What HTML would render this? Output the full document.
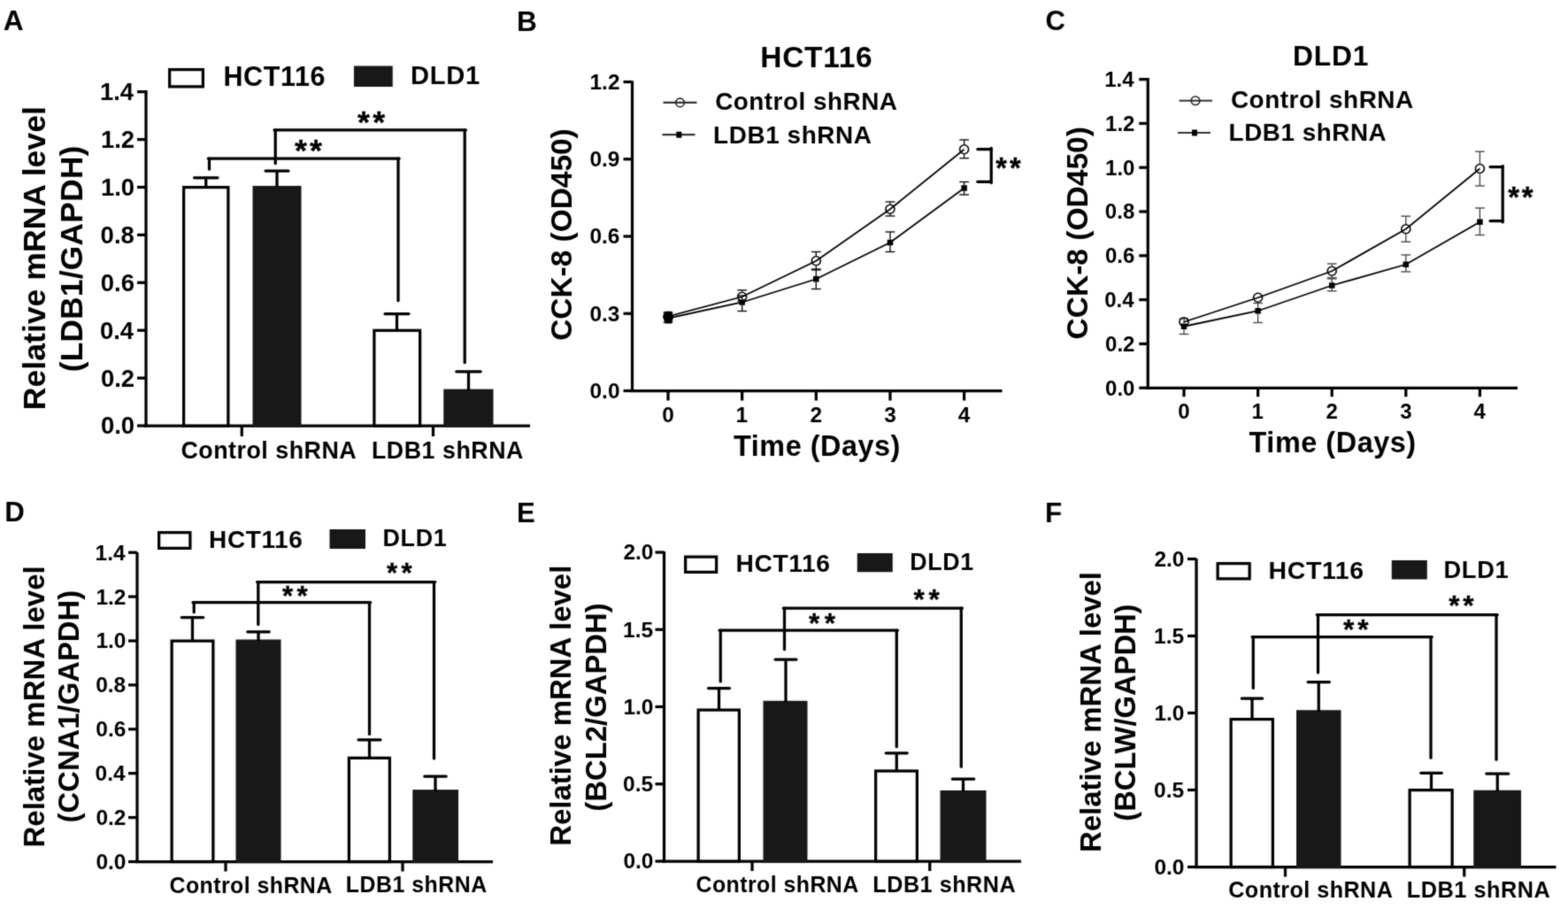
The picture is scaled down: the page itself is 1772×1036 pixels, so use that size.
<!DOCTYPE html>
<html><head><meta charset="utf-8"><title>Figure</title>
<style>
html,body{margin:0;padding:0;background:#fff;}
body{width:1772px;height:1036px;overflow:hidden;}
svg{display:block;}
#fig{width:1772px;height:1036px;}
text{font-family:"Liberation Sans",Arial,sans-serif;font-weight:bold;}
</style></head>
<body>
<div id="fig"><svg width="1772" height="1036" viewBox="0 0 1772 1036">
<defs><filter id="soft" color-interpolation-filters="sRGB" x="0" y="0" width="1772" height="1036" filterUnits="userSpaceOnUse"><feConvolveMatrix order="3" kernelMatrix="1 4 1 4 16 4 1 4 1" divisor="36" edgeMode="duplicate"/></filter></defs>
<g filter="url(#soft)">
<rect width="1772" height="1036" fill="#fff"/>
<text x="3.86" y="33.64" font-size="31.65" fill="#000">A</text>
<text x="583.98" y="34.62" font-size="31.61" fill="#000">B</text>
<text x="1181.47" y="34.42" font-size="31.03" fill="#000">C</text>
<text x="5.2" y="589.37" font-size="31.25" fill="#000">D</text>
<text x="584.06" y="589.7" font-size="31.11" fill="#000">E</text>
<text x="1180.92" y="589.55" font-size="31.39" fill="#000">F</text>
<line x1="165" y1="101.88" x2="165" y2="482.62" stroke="#000" stroke-width="3.25" stroke-linecap="butt"/>
<line x1="163.38" y1="481" x2="599" y2="481" stroke="#000" stroke-width="3.25" stroke-linecap="butt"/>
<line x1="155" y1="481" x2="165" y2="481" stroke="#000" stroke-width="3.25" stroke-linecap="butt"/>
<text x="113.88" y="490.46" font-size="27.5" fill="#000">0.0</text>
<line x1="155" y1="427.1" x2="165" y2="427.1" stroke="#000" stroke-width="3.25" stroke-linecap="butt"/>
<text x="113.88" y="436.56" font-size="27.5" fill="#000">0.2</text>
<line x1="155" y1="373.2" x2="165" y2="373.2" stroke="#000" stroke-width="3.25" stroke-linecap="butt"/>
<text x="112.91" y="382.66" font-size="27.5" fill="#000">0.4</text>
<line x1="155" y1="319.3" x2="165" y2="319.3" stroke="#000" stroke-width="3.25" stroke-linecap="butt"/>
<text x="113.74" y="328.76" font-size="27.5" fill="#000">0.6</text>
<line x1="155" y1="265.4" x2="165" y2="265.4" stroke="#000" stroke-width="3.25" stroke-linecap="butt"/>
<text x="113.6" y="274.86" font-size="27.5" fill="#000">0.8</text>
<line x1="155" y1="211.5" x2="165" y2="211.5" stroke="#000" stroke-width="3.25" stroke-linecap="butt"/>
<text x="113.88" y="220.96" font-size="27.5" fill="#000">1.0</text>
<line x1="155" y1="157.6" x2="165" y2="157.6" stroke="#000" stroke-width="3.25" stroke-linecap="butt"/>
<text x="113.88" y="167.06" font-size="27.5" fill="#000">1.2</text>
<line x1="155" y1="103.7" x2="165" y2="103.7" stroke="#000" stroke-width="3.25" stroke-linecap="butt"/>
<text x="112.91" y="113.16" font-size="27.5" fill="#000">1.4</text>
<line x1="273.25" y1="481" x2="273.25" y2="493" stroke="#000" stroke-width="3.25" stroke-linecap="butt"/>
<line x1="489.5" y1="481" x2="489.5" y2="493" stroke="#000" stroke-width="3.25" stroke-linecap="butt"/>
<rect x="207.62" y="211.62" width="50.25" height="269.38" fill="#fff" stroke="#000" stroke-width="3.25"/>
<rect x="287.12" y="211.62" width="51.75" height="269.38" fill="#181818" stroke="#181818" stroke-width="3.25"/>
<rect x="422.88" y="373.32" width="51.75" height="107.68" fill="#fff" stroke="#000" stroke-width="3.25"/>
<rect x="502.88" y="441.24" width="53" height="39.76" fill="#181818" stroke="#181818" stroke-width="3.25"/>
<line x1="232.75" y1="200.75" x2="232.75" y2="211.5" stroke="#000" stroke-width="3.25" stroke-linecap="butt"/>
<line x1="219.55" y1="200.75" x2="245.95" y2="200.75" stroke="#000" stroke-width="3.25" stroke-linecap="round"/>
<line x1="313" y1="193" x2="313" y2="211.5" stroke="#000" stroke-width="3.25" stroke-linecap="butt"/>
<line x1="300.05" y1="193" x2="325.95" y2="193" stroke="#000" stroke-width="3.25" stroke-linecap="round"/>
<line x1="448.5" y1="354.5" x2="448.5" y2="373.2" stroke="#000" stroke-width="3.25" stroke-linecap="butt"/>
<line x1="435.05" y1="354.5" x2="461.95" y2="354.5" stroke="#000" stroke-width="3.25" stroke-linecap="round"/>
<line x1="529.5" y1="419.75" x2="529.5" y2="441.11" stroke="#000" stroke-width="3.25" stroke-linecap="butt"/>
<line x1="515.8" y1="419.75" x2="543.2" y2="419.75" stroke="#000" stroke-width="3.25" stroke-linecap="round"/>
<line x1="236.5" y1="179" x2="236.5" y2="191.2" stroke="#000" stroke-width="3.25" stroke-linecap="round"/>
<line x1="450" y1="179" x2="450" y2="339.7" stroke="#000" stroke-width="3.25" stroke-linecap="round"/>
<line x1="235.3" y1="179" x2="451.2" y2="179" stroke="#000" stroke-width="3.25" stroke-linecap="round"/>
<line x1="311.2" y1="146.9" x2="311.2" y2="184.7" stroke="#000" stroke-width="3.25" stroke-linecap="round"/>
<line x1="525.2" y1="146.9" x2="525.2" y2="409.7" stroke="#000" stroke-width="3.25" stroke-linecap="round"/>
<line x1="310" y1="146.9" x2="526.4" y2="146.9" stroke="#000" stroke-width="3.25" stroke-linecap="round"/>
<text x="333.12" y="182.3" font-size="35.8" font-weight="normal" fill="#000" stroke="#000" stroke-width="0.35">*</text>
<text x="350.07" y="182.3" font-size="35.8" font-weight="normal" fill="#000" stroke="#000" stroke-width="0.35">*</text>
<text x="403.92" y="150.3" font-size="35.8" font-weight="normal" fill="#000" stroke="#000" stroke-width="0.35">*</text>
<text x="421.22" y="150.3" font-size="35.8" font-weight="normal" fill="#000" stroke="#000" stroke-width="0.35">*</text>
<rect x="191.62" y="78.62" width="37.75" height="19.25" fill="#fff" stroke="#000" stroke-width="3.25"/>
<rect x="401.62" y="76.12" width="40.5" height="20.25" fill="#181818" stroke="#181818" stroke-width="3.25"/>
<text x="252.44" y="97.48" font-size="30.47" letter-spacing="0.67" fill="#000">HCT116</text>
<text x="464.03" y="95.02" font-size="29.12" letter-spacing="0.76" fill="#000">DLD1</text>
<text x="204.43" y="518.48" font-size="26.85" letter-spacing="0.49" fill="#000">Control shRNA</text>
<text x="419.94" y="518.45" font-size="26.75" letter-spacing="0.56" fill="#000">LDB1 shRNA</text>
<text transform="translate(51.06 463.2) rotate(-90)" font-size="35.62" fill="#000">Relative mRNA level</text>
<text transform="translate(93.27 420.28) rotate(-90)" font-size="35.67" fill="#000">(LDB1/GAPDH)</text>
<line x1="155" y1="623.88" x2="155" y2="975.12" stroke="#000" stroke-width="3.25" stroke-linecap="butt"/>
<line x1="153.38" y1="973.5" x2="557" y2="973.5" stroke="#000" stroke-width="3.25" stroke-linecap="butt"/>
<line x1="145" y1="973.5" x2="155" y2="973.5" stroke="#000" stroke-width="3.25" stroke-linecap="butt"/>
<text x="108.42" y="981.93" font-size="24.5" fill="#000">0.0</text>
<line x1="145" y1="923.6" x2="155" y2="923.6" stroke="#000" stroke-width="3.25" stroke-linecap="butt"/>
<text x="108.42" y="932.03" font-size="24.5" fill="#000">0.2</text>
<line x1="145" y1="873.7" x2="155" y2="873.7" stroke="#000" stroke-width="3.25" stroke-linecap="butt"/>
<text x="107.57" y="882.13" font-size="24.5" fill="#000">0.4</text>
<line x1="145" y1="823.8" x2="155" y2="823.8" stroke="#000" stroke-width="3.25" stroke-linecap="butt"/>
<text x="108.3" y="832.23" font-size="24.5" fill="#000">0.6</text>
<line x1="145" y1="773.9" x2="155" y2="773.9" stroke="#000" stroke-width="3.25" stroke-linecap="butt"/>
<text x="108.18" y="782.33" font-size="24.5" fill="#000">0.8</text>
<line x1="145" y1="724" x2="155" y2="724" stroke="#000" stroke-width="3.25" stroke-linecap="butt"/>
<text x="108.42" y="732.43" font-size="24.5" fill="#000">1.0</text>
<line x1="145" y1="674.1" x2="155" y2="674.1" stroke="#000" stroke-width="3.25" stroke-linecap="butt"/>
<text x="108.42" y="682.53" font-size="24.5" fill="#000">1.2</text>
<line x1="145" y1="624.2" x2="155" y2="624.2" stroke="#000" stroke-width="3.25" stroke-linecap="butt"/>
<text x="107.57" y="632.63" font-size="24.5" fill="#000">1.4</text>
<line x1="255" y1="973.5" x2="255" y2="984.5" stroke="#000" stroke-width="3.25" stroke-linecap="butt"/>
<line x1="455" y1="973.5" x2="455" y2="984.5" stroke="#000" stroke-width="3.25" stroke-linecap="butt"/>
<rect x="194.12" y="724.12" width="46.75" height="249.38" fill="#fff" stroke="#000" stroke-width="3.25"/>
<rect x="268.12" y="724.12" width="47.75" height="249.38" fill="#181818" stroke="#181818" stroke-width="3.25"/>
<rect x="394.38" y="856.36" width="46" height="117.14" fill="#fff" stroke="#000" stroke-width="3.25"/>
<rect x="467.88" y="893.78" width="48.5" height="79.72" fill="#181818" stroke="#181818" stroke-width="3.25"/>
<line x1="217.5" y1="697.5" x2="217.5" y2="724" stroke="#000" stroke-width="3.25" stroke-linecap="butt"/>
<line x1="205.3" y1="697.5" x2="229.7" y2="697.5" stroke="#000" stroke-width="3.25" stroke-linecap="round"/>
<line x1="292" y1="713.75" x2="292" y2="724" stroke="#000" stroke-width="3.25" stroke-linecap="butt"/>
<line x1="279.8" y1="713.75" x2="304.2" y2="713.75" stroke="#000" stroke-width="3.25" stroke-linecap="round"/>
<line x1="417.5" y1="835.75" x2="417.5" y2="856.24" stroke="#000" stroke-width="3.25" stroke-linecap="butt"/>
<line x1="405.05" y1="835.75" x2="429.95" y2="835.75" stroke="#000" stroke-width="3.25" stroke-linecap="round"/>
<line x1="492" y1="877" x2="492" y2="893.66" stroke="#000" stroke-width="3.25" stroke-linecap="butt"/>
<line x1="479.8" y1="877" x2="504.2" y2="877" stroke="#000" stroke-width="3.25" stroke-linecap="round"/>
<line x1="219.2" y1="680.5" x2="219.2" y2="691.7" stroke="#000" stroke-width="3.25" stroke-linecap="round"/>
<line x1="417.5" y1="680.5" x2="417.5" y2="829.45" stroke="#000" stroke-width="3.25" stroke-linecap="round"/>
<line x1="218" y1="680.5" x2="418.7" y2="680.5" stroke="#000" stroke-width="3.25" stroke-linecap="round"/>
<line x1="291.8" y1="657.6" x2="291.8" y2="705.5" stroke="#000" stroke-width="3.25" stroke-linecap="round"/>
<line x1="490.5" y1="657.6" x2="490.5" y2="856.95" stroke="#000" stroke-width="3.25" stroke-linecap="round"/>
<line x1="290.6" y1="657.6" x2="491.7" y2="657.6" stroke="#000" stroke-width="3.25" stroke-linecap="round"/>
<text x="319.02" y="684.19" font-size="31.2" font-weight="normal" fill="#000" stroke="#000" stroke-width="0.35">*</text>
<text x="335.42" y="684.19" font-size="31.2" font-weight="normal" fill="#000" stroke="#000" stroke-width="0.35">*</text>
<text x="437.12" y="657.79" font-size="31.2" font-weight="normal" fill="#000" stroke="#000" stroke-width="0.35">*</text>
<text x="453.42" y="657.79" font-size="31.2" font-weight="normal" fill="#000" stroke="#000" stroke-width="0.35">*</text>
<rect x="179.62" y="601.62" width="35.25" height="17.75" fill="#fff" stroke="#000" stroke-width="3.25"/>
<rect x="374.12" y="599.62" width="37.25" height="18.75" fill="#181818" stroke="#181818" stroke-width="3.25"/>
<text x="236.11" y="618.74" font-size="27.96" letter-spacing="0.62" fill="#000">HCT116</text>
<text x="432.43" y="617" font-size="26.9" letter-spacing="0.7" fill="#000">DLD1</text>
<text x="191.51" y="1008.51" font-size="24.86" letter-spacing="0.46" fill="#000">Control shRNA</text>
<text x="390.82" y="1008.38" font-size="24.85" letter-spacing="0.52" fill="#000">LDB1 shRNA</text>
<text transform="translate(49.63 957.53) rotate(-90)" font-size="33.04" fill="#000">Relative mRNA level</text>
<text transform="translate(88.75 929.44) rotate(-90)" font-size="32.84" fill="#000">(CCNA1/GAPDH)</text>
<line x1="750.5" y1="622.88" x2="750.5" y2="974.62" stroke="#000" stroke-width="3.25" stroke-linecap="butt"/>
<line x1="748.88" y1="973" x2="1154" y2="973" stroke="#000" stroke-width="3.25" stroke-linecap="butt"/>
<line x1="740.5" y1="973" x2="750.5" y2="973" stroke="#000" stroke-width="3.25" stroke-linecap="butt"/>
<text x="704.42" y="981.43" font-size="24.5" fill="#000">0.0</text>
<line x1="740.5" y1="885.75" x2="750.5" y2="885.75" stroke="#000" stroke-width="3.25" stroke-linecap="butt"/>
<text x="704.12" y="894.18" font-size="24.5" fill="#000">0.5</text>
<line x1="740.5" y1="798.5" x2="750.5" y2="798.5" stroke="#000" stroke-width="3.25" stroke-linecap="butt"/>
<text x="704.42" y="806.93" font-size="24.5" fill="#000">1.0</text>
<line x1="740.5" y1="711.25" x2="750.5" y2="711.25" stroke="#000" stroke-width="3.25" stroke-linecap="butt"/>
<text x="704.12" y="719.68" font-size="24.5" fill="#000">1.5</text>
<line x1="740.5" y1="624" x2="750.5" y2="624" stroke="#000" stroke-width="3.25" stroke-linecap="butt"/>
<text x="704.42" y="632.43" font-size="24.5" fill="#000">2.0</text>
<line x1="850" y1="973" x2="850" y2="984" stroke="#000" stroke-width="3.25" stroke-linecap="butt"/>
<line x1="1050.75" y1="973" x2="1050.75" y2="984" stroke="#000" stroke-width="3.25" stroke-linecap="butt"/>
<rect x="789.12" y="802.12" width="46.25" height="170.88" fill="#fff" stroke="#000" stroke-width="3.25"/>
<rect x="864.12" y="793.39" width="46.75" height="179.61" fill="#181818" stroke="#181818" stroke-width="3.25"/>
<rect x="989.62" y="871.04" width="46.75" height="101.96" fill="#fff" stroke="#000" stroke-width="3.25"/>
<rect x="1064.12" y="894.6" width="48.75" height="78.4" fill="#181818" stroke="#181818" stroke-width="3.25"/>
<line x1="812.5" y1="777.5" x2="812.5" y2="801.99" stroke="#000" stroke-width="3.25" stroke-linecap="butt"/>
<line x1="800.55" y1="777.5" x2="824.45" y2="777.5" stroke="#000" stroke-width="3.25" stroke-linecap="round"/>
<line x1="888" y1="745" x2="888" y2="793.26" stroke="#000" stroke-width="3.25" stroke-linecap="butt"/>
<line x1="876.05" y1="745" x2="899.95" y2="745" stroke="#000" stroke-width="3.25" stroke-linecap="round"/>
<line x1="1013.25" y1="850.75" x2="1013.25" y2="870.92" stroke="#000" stroke-width="3.25" stroke-linecap="butt"/>
<line x1="1001.3" y1="850.75" x2="1025.2" y2="850.75" stroke="#000" stroke-width="3.25" stroke-linecap="round"/>
<line x1="1088.5" y1="880" x2="1088.5" y2="894.48" stroke="#000" stroke-width="3.25" stroke-linecap="butt"/>
<line x1="1076.3" y1="880" x2="1100.7" y2="880" stroke="#000" stroke-width="3.25" stroke-linecap="round"/>
<line x1="814.25" y1="712" x2="814.25" y2="769.95" stroke="#000" stroke-width="3.25" stroke-linecap="round"/>
<line x1="1013.25" y1="712" x2="1013.25" y2="843.7" stroke="#000" stroke-width="3.25" stroke-linecap="round"/>
<line x1="813.05" y1="712" x2="1014.45" y2="712" stroke="#000" stroke-width="3.25" stroke-linecap="round"/>
<line x1="886.5" y1="687" x2="886.5" y2="733.7" stroke="#000" stroke-width="3.25" stroke-linecap="round"/>
<line x1="1086.25" y1="687" x2="1086.25" y2="866.2" stroke="#000" stroke-width="3.25" stroke-linecap="round"/>
<line x1="885.3" y1="687" x2="1087.45" y2="687" stroke="#000" stroke-width="3.25" stroke-linecap="round"/>
<text x="913.94" y="714.9" font-size="31.6" font-weight="normal" fill="#000" stroke="#000" stroke-width="0.35">*</text>
<text x="931.74" y="714.9" font-size="31.6" font-weight="normal" fill="#000" stroke="#000" stroke-width="0.35">*</text>
<text x="1032.44" y="687.7" font-size="31.6" font-weight="normal" fill="#000" stroke="#000" stroke-width="0.35">*</text>
<text x="1049.49" y="687.7" font-size="31.6" font-weight="normal" fill="#000" stroke="#000" stroke-width="0.35">*</text>
<rect x="774.62" y="629.12" width="35" height="17.25" fill="#fff" stroke="#000" stroke-width="3.25"/>
<rect x="970.38" y="626.62" width="36.75" height="18" fill="#181818" stroke="#181818" stroke-width="3.25"/>
<text x="831.6" y="646.31" font-size="28.16" letter-spacing="0.62" fill="#000">HCT116</text>
<text x="1028.19" y="643.97" font-size="26.81" letter-spacing="0.69" fill="#000">DLD1</text>
<text x="786.51" y="1007.51" font-size="24.86" letter-spacing="0.46" fill="#000">Control shRNA</text>
<text x="986.3" y="1007.62" font-size="25.17" letter-spacing="0.53" fill="#000">LDB1 shRNA</text>
<text transform="translate(645.01 955.72) rotate(-90)" font-size="32.91" fill="#000">Relative mRNA level</text>
<text transform="translate(684.7 916.64) rotate(-90)" font-size="32.84" fill="#000">(BCL2/GAPDH)</text>
<line x1="1352" y1="630.88" x2="1352" y2="981.12" stroke="#000" stroke-width="3.25" stroke-linecap="butt"/>
<line x1="1350.38" y1="979.5" x2="1758.5" y2="979.5" stroke="#000" stroke-width="3.25" stroke-linecap="butt"/>
<line x1="1342" y1="979.5" x2="1352" y2="979.5" stroke="#000" stroke-width="3.25" stroke-linecap="butt"/>
<text x="1304.42" y="987.93" font-size="24.5" fill="#000">0.0</text>
<line x1="1342" y1="892.5" x2="1352" y2="892.5" stroke="#000" stroke-width="3.25" stroke-linecap="butt"/>
<text x="1304.12" y="900.93" font-size="24.5" fill="#000">0.5</text>
<line x1="1342" y1="805.5" x2="1352" y2="805.5" stroke="#000" stroke-width="3.25" stroke-linecap="butt"/>
<text x="1304.42" y="813.93" font-size="24.5" fill="#000">1.0</text>
<line x1="1342" y1="718.5" x2="1352" y2="718.5" stroke="#000" stroke-width="3.25" stroke-linecap="butt"/>
<text x="1304.12" y="726.93" font-size="24.5" fill="#000">1.5</text>
<line x1="1342" y1="631.5" x2="1352" y2="631.5" stroke="#000" stroke-width="3.25" stroke-linecap="butt"/>
<text x="1304.42" y="639.93" font-size="24.5" fill="#000">2.0</text>
<line x1="1452.5" y1="979.5" x2="1452.5" y2="990.5" stroke="#000" stroke-width="3.25" stroke-linecap="butt"/>
<line x1="1654.75" y1="979.5" x2="1654.75" y2="990.5" stroke="#000" stroke-width="3.25" stroke-linecap="butt"/>
<rect x="1391.12" y="812.59" width="47.25" height="166.91" fill="#fff" stroke="#000" stroke-width="3.25"/>
<rect x="1466.62" y="803.88" width="47.25" height="175.62" fill="#181818" stroke="#181818" stroke-width="3.25"/>
<rect x="1593.12" y="892.62" width="48" height="86.88" fill="#fff" stroke="#000" stroke-width="3.25"/>
<rect x="1666.88" y="894.37" width="50.5" height="85.13" fill="#181818" stroke="#181818" stroke-width="3.25"/>
<line x1="1415" y1="789" x2="1415" y2="812.46" stroke="#000" stroke-width="3.25" stroke-linecap="butt"/>
<line x1="1403.3" y1="789" x2="1426.7" y2="789" stroke="#000" stroke-width="3.25" stroke-linecap="round"/>
<line x1="1490.25" y1="770.5" x2="1490.25" y2="803.76" stroke="#000" stroke-width="3.25" stroke-linecap="butt"/>
<line x1="1478.15" y1="770.5" x2="1502.35" y2="770.5" stroke="#000" stroke-width="3.25" stroke-linecap="round"/>
<line x1="1617.5" y1="873.25" x2="1617.5" y2="892.5" stroke="#000" stroke-width="3.25" stroke-linecap="butt"/>
<line x1="1605.8" y1="873.25" x2="1629.2" y2="873.25" stroke="#000" stroke-width="3.25" stroke-linecap="round"/>
<line x1="1692.25" y1="874" x2="1692.25" y2="894.24" stroke="#000" stroke-width="3.25" stroke-linecap="butt"/>
<line x1="1679.8" y1="874" x2="1704.7" y2="874" stroke="#000" stroke-width="3.25" stroke-linecap="round"/>
<line x1="1416.25" y1="719.5" x2="1416.25" y2="777.45" stroke="#000" stroke-width="3.25" stroke-linecap="round"/>
<line x1="1617" y1="719.5" x2="1617" y2="856.2" stroke="#000" stroke-width="3.25" stroke-linecap="round"/>
<line x1="1415.05" y1="719.5" x2="1618.2" y2="719.5" stroke="#000" stroke-width="3.25" stroke-linecap="round"/>
<line x1="1489.5" y1="694.5" x2="1489.5" y2="759.95" stroke="#000" stroke-width="3.25" stroke-linecap="round"/>
<line x1="1691" y1="694.5" x2="1691" y2="858.2" stroke="#000" stroke-width="3.25" stroke-linecap="round"/>
<line x1="1488.3" y1="694.5" x2="1692.2" y2="694.5" stroke="#000" stroke-width="3.25" stroke-linecap="round"/>
<text x="1518.04" y="722.3" font-size="31.6" font-weight="normal" fill="#000" stroke="#000" stroke-width="0.35">*</text>
<text x="1534.24" y="722.3" font-size="31.6" font-weight="normal" fill="#000" stroke="#000" stroke-width="0.35">*</text>
<text x="1637.14" y="695.3" font-size="31.6" font-weight="normal" fill="#000" stroke="#000" stroke-width="0.35">*</text>
<text x="1653.34" y="695.3" font-size="31.6" font-weight="normal" fill="#000" stroke="#000" stroke-width="0.35">*</text>
<rect x="1376.12" y="636.62" width="36" height="17.25" fill="#fff" stroke="#000" stroke-width="3.25"/>
<rect x="1574.38" y="634.62" width="36.75" height="18.25" fill="#181818" stroke="#181818" stroke-width="3.25"/>
<text x="1433.58" y="653.91" font-size="28.43" letter-spacing="0.63" fill="#000">HCT116</text>
<text x="1631.41" y="652.51" font-size="27.29" letter-spacing="0.71" fill="#000">DLD1</text>
<text x="1388.24" y="1014.24" font-size="25.14" letter-spacing="0.46" fill="#000">Control shRNA</text>
<text x="1589.8" y="1014.28" font-size="25.25" letter-spacing="0.53" fill="#000">LDB1 shRNA</text>
<text transform="translate(1243.53 963.02) rotate(-90)" font-size="32.91" fill="#000">Relative mRNA level</text>
<text transform="translate(1283.15 927.64) rotate(-90)" font-size="32.7" fill="#000">(BCLW/GAPDH)</text>
<line x1="714.5" y1="91.5" x2="714.5" y2="443.12" stroke="#000" stroke-width="3.25" stroke-linecap="butt"/>
<line x1="712.88" y1="441.5" x2="1132.5" y2="441.5" stroke="#000" stroke-width="3.25" stroke-linecap="butt"/>
<line x1="704.5" y1="441.5" x2="714.5" y2="441.5" stroke="#000" stroke-width="3.25" stroke-linecap="butt"/>
<text x="666.56" y="449.89" font-size="24.4" fill="#000">0.0</text>
<line x1="704.5" y1="354.26" x2="714.5" y2="354.26" stroke="#000" stroke-width="3.25" stroke-linecap="butt"/>
<text x="666.44" y="362.65" font-size="24.4" fill="#000">0.3</text>
<line x1="704.5" y1="267.02" x2="714.5" y2="267.02" stroke="#000" stroke-width="3.25" stroke-linecap="butt"/>
<text x="666.44" y="275.41" font-size="24.4" fill="#000">0.6</text>
<line x1="704.5" y1="179.78" x2="714.5" y2="179.78" stroke="#000" stroke-width="3.25" stroke-linecap="butt"/>
<text x="666.44" y="188.17" font-size="24.4" fill="#000">0.9</text>
<line x1="704.5" y1="92.54" x2="714.5" y2="92.54" stroke="#000" stroke-width="3.25" stroke-linecap="butt"/>
<text x="666.56" y="100.93" font-size="24.4" fill="#000">1.2</text>
<line x1="755" y1="441.5" x2="755" y2="452.5" stroke="#000" stroke-width="3.25" stroke-linecap="butt"/>
<text x="748.23" y="476.59" font-size="24.4" fill="#000">0</text>
<line x1="838.65" y1="441.5" x2="838.65" y2="452.5" stroke="#000" stroke-width="3.25" stroke-linecap="butt"/>
<text x="831.45" y="476.59" font-size="24.4" fill="#000">1</text>
<line x1="922.3" y1="441.5" x2="922.3" y2="452.5" stroke="#000" stroke-width="3.25" stroke-linecap="butt"/>
<text x="915.59" y="476.59" font-size="24.4" fill="#000">2</text>
<line x1="1005.95" y1="441.5" x2="1005.95" y2="452.5" stroke="#000" stroke-width="3.25" stroke-linecap="butt"/>
<text x="999.33" y="476.59" font-size="24.4" fill="#000">3</text>
<line x1="1089.6" y1="441.5" x2="1089.6" y2="452.5" stroke="#000" stroke-width="3.25" stroke-linecap="butt"/>
<text x="1082.71" y="476.59" font-size="24.4" fill="#000">4</text>
<line x1="755" y1="363.3" x2="755" y2="364" stroke="#111" stroke-width="1.4" stroke-linecap="butt"/>
<line x1="749.6" y1="353" x2="760.4" y2="353" stroke="#111" stroke-width="1.4" stroke-linecap="butt"/>
<line x1="749.6" y1="364" x2="760.4" y2="364" stroke="#111" stroke-width="1.4" stroke-linecap="butt"/>
<line x1="838.65" y1="327.75" x2="838.65" y2="329.45" stroke="#111" stroke-width="1.4" stroke-linecap="butt"/>
<line x1="833.25" y1="327.75" x2="844.05" y2="327.75" stroke="#111" stroke-width="1.4" stroke-linecap="butt"/>
<line x1="833.25" y1="340" x2="844.05" y2="340" stroke="#111" stroke-width="1.4" stroke-linecap="butt"/>
<line x1="922.3" y1="284.5" x2="922.3" y2="288.95" stroke="#111" stroke-width="1.4" stroke-linecap="butt"/>
<line x1="922.3" y1="300.55" x2="922.3" y2="305" stroke="#111" stroke-width="1.4" stroke-linecap="butt"/>
<line x1="916.9" y1="284.5" x2="927.7" y2="284.5" stroke="#111" stroke-width="1.4" stroke-linecap="butt"/>
<line x1="916.9" y1="305" x2="927.7" y2="305" stroke="#111" stroke-width="1.4" stroke-linecap="butt"/>
<line x1="1005.95" y1="228" x2="1005.95" y2="230.45" stroke="#111" stroke-width="1.4" stroke-linecap="butt"/>
<line x1="1005.95" y1="242.05" x2="1005.95" y2="244" stroke="#111" stroke-width="1.4" stroke-linecap="butt"/>
<line x1="1000.55" y1="228" x2="1011.35" y2="228" stroke="#111" stroke-width="1.4" stroke-linecap="butt"/>
<line x1="1000.55" y1="244" x2="1011.35" y2="244" stroke="#111" stroke-width="1.4" stroke-linecap="butt"/>
<line x1="1089.6" y1="158" x2="1089.6" y2="162.95" stroke="#111" stroke-width="1.4" stroke-linecap="butt"/>
<line x1="1089.6" y1="174.55" x2="1089.6" y2="178.75" stroke="#111" stroke-width="1.4" stroke-linecap="butt"/>
<line x1="1084.2" y1="158" x2="1095" y2="158" stroke="#111" stroke-width="1.4" stroke-linecap="butt"/>
<line x1="1084.2" y1="178.75" x2="1095" y2="178.75" stroke="#111" stroke-width="1.4" stroke-linecap="butt"/>
<line x1="838.65" y1="334" x2="838.65" y2="338.2" stroke="#111" stroke-width="1.4" stroke-linecap="butt"/>
<line x1="838.65" y1="344.8" x2="838.65" y2="351.5" stroke="#111" stroke-width="1.4" stroke-linecap="butt"/>
<line x1="833.25" y1="334" x2="844.05" y2="334" stroke="#111" stroke-width="1.4" stroke-linecap="butt"/>
<line x1="833.25" y1="351.5" x2="844.05" y2="351.5" stroke="#111" stroke-width="1.4" stroke-linecap="butt"/>
<line x1="922.3" y1="304" x2="922.3" y2="311.95" stroke="#111" stroke-width="1.4" stroke-linecap="butt"/>
<line x1="922.3" y1="318.55" x2="922.3" y2="326.5" stroke="#111" stroke-width="1.4" stroke-linecap="butt"/>
<line x1="916.9" y1="304" x2="927.7" y2="304" stroke="#111" stroke-width="1.4" stroke-linecap="butt"/>
<line x1="916.9" y1="326.5" x2="927.7" y2="326.5" stroke="#111" stroke-width="1.4" stroke-linecap="butt"/>
<line x1="1005.95" y1="262" x2="1005.95" y2="270.7" stroke="#111" stroke-width="1.4" stroke-linecap="butt"/>
<line x1="1005.95" y1="277.3" x2="1005.95" y2="284.5" stroke="#111" stroke-width="1.4" stroke-linecap="butt"/>
<line x1="1000.55" y1="262" x2="1011.35" y2="262" stroke="#111" stroke-width="1.4" stroke-linecap="butt"/>
<line x1="1000.55" y1="284.5" x2="1011.35" y2="284.5" stroke="#111" stroke-width="1.4" stroke-linecap="butt"/>
<line x1="1089.6" y1="205.5" x2="1089.6" y2="209.2" stroke="#111" stroke-width="1.4" stroke-linecap="butt"/>
<line x1="1089.6" y1="215.8" x2="1089.6" y2="220" stroke="#111" stroke-width="1.4" stroke-linecap="butt"/>
<line x1="1084.2" y1="205.5" x2="1095" y2="205.5" stroke="#111" stroke-width="1.4" stroke-linecap="butt"/>
<line x1="1084.2" y1="220" x2="1095" y2="220" stroke="#111" stroke-width="1.4" stroke-linecap="butt"/>
<polyline points="755,357.5 838.65,335.25 922.3,294.75 1005.95,236.25 1089.6,168.75" fill="none" stroke="#000" stroke-width="1.8"/>
<circle cx="755" cy="357.5" r="5" fill="none" stroke="#000" stroke-width="1.6"/>
<circle cx="838.65" cy="335.25" r="5" fill="none" stroke="#000" stroke-width="1.6"/>
<circle cx="922.3" cy="294.75" r="5" fill="none" stroke="#000" stroke-width="1.6"/>
<circle cx="1005.95" cy="236.25" r="5" fill="none" stroke="#000" stroke-width="1.6"/>
<circle cx="1089.6" cy="168.75" r="5" fill="none" stroke="#000" stroke-width="1.6"/>
<polyline points="755,359.5 838.65,341.5 922.3,315.25 1005.95,274 1089.6,212.5" fill="none" stroke="#000" stroke-width="1.8"/>
<rect x="751.75" y="356.25" width="6.5" height="6.5" fill="#000"/>
<rect x="835.4" y="338.25" width="6.5" height="6.5" fill="#000"/>
<rect x="919.05" y="312" width="6.5" height="6.5" fill="#000"/>
<rect x="1002.7" y="270.75" width="6.5" height="6.5" fill="#000"/>
<rect x="1086.35" y="209.25" width="6.5" height="6.5" fill="#000"/>
<polygon points="751.5,351.8 759,351.8 761,358.6 759,365.4 751.5,365.4 749.5,358.6" fill="#000"/>
<line x1="1120.2" y1="167.3" x2="1120.2" y2="206.5" stroke="#000" stroke-width="3.25" stroke-linecap="round"/>
<line x1="1104.8" y1="168.5" x2="1120.2" y2="168.5" stroke="#000" stroke-width="3.25" stroke-linecap="round"/>
<line x1="1104.8" y1="205.3" x2="1120.2" y2="205.3" stroke="#000" stroke-width="3.25" stroke-linecap="round"/>
<text x="1125.36" y="200.91" font-size="32.5" font-weight="normal" fill="#000" stroke="#000" stroke-width="0.35">*</text>
<text x="1140.91" y="200.91" font-size="32.5" font-weight="normal" fill="#000" stroke="#000" stroke-width="0.35">*</text>
<line x1="749.5" y1="115.9" x2="787.5" y2="115.9" stroke="#333" stroke-width="2.2" stroke-linecap="butt"/>
<circle cx="768.5" cy="115.9" r="4.8" fill="none" stroke="#222" stroke-width="1.6"/>
<line x1="748.5" y1="152.2" x2="785.5" y2="152.2" stroke="#333" stroke-width="2.2" stroke-linecap="butt"/>
<rect x="764.3" y="148.7" width="6" height="7" fill="#000"/>
<text x="808.14" y="124.48" font-size="27.87" letter-spacing="0.51" fill="#000">Control shRNA</text>
<text x="806.12" y="161.6" font-size="27.86" letter-spacing="0.59" fill="#000">LDB1 shRNA</text>
<text x="859.24" y="75.76" font-size="33.47" letter-spacing="0.74" fill="#000">HCT116</text>
<text x="829.1" y="514.6" font-size="32.33" letter-spacing="0.56" fill="#000">Time (Days)</text>
<text transform="translate(646.25 384.84) rotate(-90)" font-size="33.43" fill="#000">CCK-8 (OD450)</text>
<line x1="1297.25" y1="88" x2="1297.25" y2="439.88" stroke="#000" stroke-width="3.25" stroke-linecap="butt"/>
<line x1="1295.62" y1="438.25" x2="1715" y2="438.25" stroke="#000" stroke-width="3.25" stroke-linecap="butt"/>
<line x1="1287.25" y1="438.25" x2="1297.25" y2="438.25" stroke="#000" stroke-width="3.25" stroke-linecap="butt"/>
<text x="1249.1" y="446.51" font-size="24" fill="#000">0.0</text>
<line x1="1287.25" y1="388.45" x2="1297.25" y2="388.45" stroke="#000" stroke-width="3.25" stroke-linecap="butt"/>
<text x="1249.1" y="396.71" font-size="24" fill="#000">0.2</text>
<line x1="1287.25" y1="338.65" x2="1297.25" y2="338.65" stroke="#000" stroke-width="3.25" stroke-linecap="butt"/>
<text x="1248.26" y="346.91" font-size="24" fill="#000">0.4</text>
<line x1="1287.25" y1="288.85" x2="1297.25" y2="288.85" stroke="#000" stroke-width="3.25" stroke-linecap="butt"/>
<text x="1248.98" y="297.11" font-size="24" fill="#000">0.6</text>
<line x1="1287.25" y1="239.05" x2="1297.25" y2="239.05" stroke="#000" stroke-width="3.25" stroke-linecap="butt"/>
<text x="1248.86" y="247.31" font-size="24" fill="#000">0.8</text>
<line x1="1287.25" y1="189.25" x2="1297.25" y2="189.25" stroke="#000" stroke-width="3.25" stroke-linecap="butt"/>
<text x="1249.1" y="197.51" font-size="24" fill="#000">1.0</text>
<line x1="1287.25" y1="139.45" x2="1297.25" y2="139.45" stroke="#000" stroke-width="3.25" stroke-linecap="butt"/>
<text x="1249.1" y="147.71" font-size="24" fill="#000">1.2</text>
<line x1="1287.25" y1="89.65" x2="1297.25" y2="89.65" stroke="#000" stroke-width="3.25" stroke-linecap="butt"/>
<text x="1248.26" y="97.91" font-size="24" fill="#000">1.4</text>
<line x1="1338" y1="438.25" x2="1338" y2="448.25" stroke="#000" stroke-width="3.25" stroke-linecap="butt"/>
<text x="1331.34" y="473.06" font-size="24" fill="#000">0</text>
<line x1="1421.6" y1="438.25" x2="1421.6" y2="448.25" stroke="#000" stroke-width="3.25" stroke-linecap="butt"/>
<text x="1414.52" y="473.06" font-size="24" fill="#000">1</text>
<line x1="1505.2" y1="438.25" x2="1505.2" y2="448.25" stroke="#000" stroke-width="3.25" stroke-linecap="butt"/>
<text x="1498.6" y="473.06" font-size="24" fill="#000">2</text>
<line x1="1588.8" y1="438.25" x2="1588.8" y2="448.25" stroke="#000" stroke-width="3.25" stroke-linecap="butt"/>
<text x="1582.29" y="473.06" font-size="24" fill="#000">3</text>
<line x1="1672.4" y1="438.25" x2="1672.4" y2="448.25" stroke="#000" stroke-width="3.25" stroke-linecap="butt"/>
<text x="1665.62" y="473.06" font-size="24" fill="#000">4</text>
<line x1="1338" y1="360" x2="1338" y2="365.45" stroke="#4a4a4a" stroke-width="1.4" stroke-linecap="butt"/>
<line x1="1338" y1="372.05" x2="1338" y2="377.5" stroke="#4a4a4a" stroke-width="1.4" stroke-linecap="butt"/>
<line x1="1332.6" y1="360" x2="1343.4" y2="360" stroke="#4a4a4a" stroke-width="1.4" stroke-linecap="butt"/>
<line x1="1332.6" y1="377.5" x2="1343.4" y2="377.5" stroke="#4a4a4a" stroke-width="1.4" stroke-linecap="butt"/>
<line x1="1505.2" y1="298" x2="1505.2" y2="300.45" stroke="#4a4a4a" stroke-width="1.4" stroke-linecap="butt"/>
<line x1="1505.2" y1="312.05" x2="1505.2" y2="315" stroke="#4a4a4a" stroke-width="1.4" stroke-linecap="butt"/>
<line x1="1499.8" y1="298" x2="1510.6" y2="298" stroke="#4a4a4a" stroke-width="1.4" stroke-linecap="butt"/>
<line x1="1499.8" y1="315" x2="1510.6" y2="315" stroke="#4a4a4a" stroke-width="1.4" stroke-linecap="butt"/>
<line x1="1588.8" y1="244.25" x2="1588.8" y2="252.95" stroke="#4a4a4a" stroke-width="1.4" stroke-linecap="butt"/>
<line x1="1588.8" y1="264.55" x2="1588.8" y2="273.25" stroke="#4a4a4a" stroke-width="1.4" stroke-linecap="butt"/>
<line x1="1583.4" y1="244.25" x2="1594.2" y2="244.25" stroke="#4a4a4a" stroke-width="1.4" stroke-linecap="butt"/>
<line x1="1583.4" y1="273.25" x2="1594.2" y2="273.25" stroke="#4a4a4a" stroke-width="1.4" stroke-linecap="butt"/>
<line x1="1672.4" y1="171.25" x2="1672.4" y2="184.7" stroke="#4a4a4a" stroke-width="1.4" stroke-linecap="butt"/>
<line x1="1672.4" y1="196.3" x2="1672.4" y2="210" stroke="#4a4a4a" stroke-width="1.4" stroke-linecap="butt"/>
<line x1="1667" y1="171.25" x2="1677.8" y2="171.25" stroke="#4a4a4a" stroke-width="1.4" stroke-linecap="butt"/>
<line x1="1667" y1="210" x2="1677.8" y2="210" stroke="#4a4a4a" stroke-width="1.4" stroke-linecap="butt"/>
<line x1="1421.6" y1="342.5" x2="1421.6" y2="347.95" stroke="#4a4a4a" stroke-width="1.4" stroke-linecap="butt"/>
<line x1="1421.6" y1="354.55" x2="1421.6" y2="364.5" stroke="#4a4a4a" stroke-width="1.4" stroke-linecap="butt"/>
<line x1="1416.2" y1="342.5" x2="1427" y2="342.5" stroke="#4a4a4a" stroke-width="1.4" stroke-linecap="butt"/>
<line x1="1416.2" y1="364.5" x2="1427" y2="364.5" stroke="#4a4a4a" stroke-width="1.4" stroke-linecap="butt"/>
<line x1="1505.2" y1="313.75" x2="1505.2" y2="319.2" stroke="#4a4a4a" stroke-width="1.4" stroke-linecap="butt"/>
<line x1="1505.2" y1="325.8" x2="1505.2" y2="328.75" stroke="#4a4a4a" stroke-width="1.4" stroke-linecap="butt"/>
<line x1="1499.8" y1="313.75" x2="1510.6" y2="313.75" stroke="#4a4a4a" stroke-width="1.4" stroke-linecap="butt"/>
<line x1="1499.8" y1="328.75" x2="1510.6" y2="328.75" stroke="#4a4a4a" stroke-width="1.4" stroke-linecap="butt"/>
<line x1="1588.8" y1="288" x2="1588.8" y2="295.45" stroke="#4a4a4a" stroke-width="1.4" stroke-linecap="butt"/>
<line x1="1588.8" y1="302.05" x2="1588.8" y2="307" stroke="#4a4a4a" stroke-width="1.4" stroke-linecap="butt"/>
<line x1="1583.4" y1="288" x2="1594.2" y2="288" stroke="#4a4a4a" stroke-width="1.4" stroke-linecap="butt"/>
<line x1="1583.4" y1="307" x2="1594.2" y2="307" stroke="#4a4a4a" stroke-width="1.4" stroke-linecap="butt"/>
<line x1="1672.4" y1="235" x2="1672.4" y2="247.45" stroke="#4a4a4a" stroke-width="1.4" stroke-linecap="butt"/>
<line x1="1672.4" y1="254.05" x2="1672.4" y2="265.5" stroke="#4a4a4a" stroke-width="1.4" stroke-linecap="butt"/>
<line x1="1667" y1="235" x2="1677.8" y2="235" stroke="#4a4a4a" stroke-width="1.4" stroke-linecap="butt"/>
<line x1="1667" y1="265.5" x2="1677.8" y2="265.5" stroke="#4a4a4a" stroke-width="1.4" stroke-linecap="butt"/>
<polyline points="1338,363.75 1421.6,336.25 1505.2,306.25 1588.8,258.75 1672.4,190.5" fill="none" stroke="#000" stroke-width="1.8"/>
<circle cx="1338" cy="363.75" r="5" fill="none" stroke="#000" stroke-width="1.6"/>
<circle cx="1421.6" cy="336.25" r="5" fill="none" stroke="#000" stroke-width="1.6"/>
<circle cx="1505.2" cy="306.25" r="5" fill="none" stroke="#000" stroke-width="1.6"/>
<circle cx="1588.8" cy="258.75" r="5" fill="none" stroke="#000" stroke-width="1.6"/>
<circle cx="1672.4" cy="190.5" r="5" fill="none" stroke="#000" stroke-width="1.6"/>
<polyline points="1338,368.75 1421.6,351.25 1505.2,322.5 1588.8,298.75 1672.4,250.75" fill="none" stroke="#000" stroke-width="1.8"/>
<rect x="1334.75" y="365.5" width="6.5" height="6.5" fill="#000"/>
<rect x="1418.35" y="348" width="6.5" height="6.5" fill="#000"/>
<rect x="1501.95" y="319.25" width="6.5" height="6.5" fill="#000"/>
<rect x="1585.55" y="295.5" width="6.5" height="6.5" fill="#000"/>
<rect x="1669.15" y="247.5" width="6.5" height="6.5" fill="#000"/>
<line x1="1698.2" y1="187.5" x2="1698.2" y2="250.9" stroke="#000" stroke-width="3.25" stroke-linecap="round"/>
<line x1="1684.1" y1="188.7" x2="1698.2" y2="188.7" stroke="#000" stroke-width="3.25" stroke-linecap="round"/>
<line x1="1684.1" y1="249.7" x2="1698.2" y2="249.7" stroke="#000" stroke-width="3.25" stroke-linecap="round"/>
<text x="1704.22" y="233.91" font-size="33" font-weight="normal" fill="#000" stroke="#000" stroke-width="0.35">*</text>
<text x="1719.87" y="233.91" font-size="33" font-weight="normal" fill="#000" stroke="#000" stroke-width="0.35">*</text>
<line x1="1332.5" y1="113.75" x2="1370" y2="113.75" stroke="#333" stroke-width="2.2" stroke-linecap="butt"/>
<circle cx="1351" cy="113.75" r="4.8" fill="none" stroke="#222" stroke-width="1.6"/>
<line x1="1331" y1="150" x2="1368" y2="150" stroke="#333" stroke-width="2.2" stroke-linecap="butt"/>
<rect x="1347" y="146.5" width="6" height="7" fill="#000"/>
<text x="1390.88" y="122.25" font-size="27.94" letter-spacing="0.51" fill="#000">Control shRNA</text>
<text x="1388.62" y="159.2" font-size="27.78" letter-spacing="0.58" fill="#000">LDB1 shRNA</text>
<text x="1461.11" y="73.79" font-size="31.72" letter-spacing="0.82" fill="#000">DLD1</text>
<text x="1411.6" y="510.99" font-size="32.38" letter-spacing="0.56" fill="#000">Time (Days)</text>
<text transform="translate(1229.09 383.44) rotate(-90)" font-size="33.54" fill="#000">CCK-8 (OD450)</text>
</g>
</svg></div>
</body></html>
